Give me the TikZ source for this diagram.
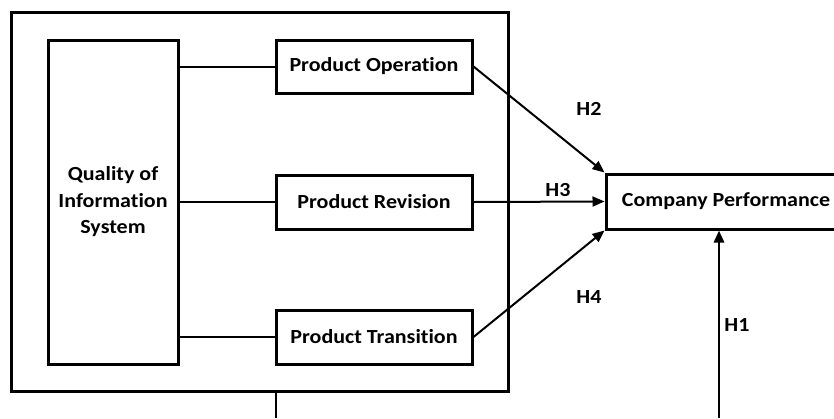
\documentclass[tikz,border=0pt]{standalone}
\usepackage{fontspec}
\setmainfont[Ligatures=NoCommon, FakeStretch=1.1]{Carlito}
\usetikzlibrary{arrows.meta}
\begin{document}
\begin{tikzpicture}[x=1pt,y=-1pt,
  box/.style={draw, line width=3pt, rectangle, inner sep=0pt},
  lbl/.style={font=\fontsize{20}{24}\selectfont\bfseries},
  conn/.style={line width=2pt},
  arr/.style={line width=2pt, -{Triangle[length=12pt,width=10pt]}},
  tall/.style={line width=2.8pt}]
\useasboundingbox (0,0) rectangle (834,418);
\clip (0,0) rectangle (834,418);
\node[box, minimum width=497pt, minimum height=379pt] (outer) at (259.5,201.5) {};
\node[box, minimum width=130pt, minimum height=324pt, align=center,
  font=\fontsize{20}{26.5}\selectfont\bfseries] (qis) at (113,202) {Quality of\\Information\\System};
\node[box, lbl, minimum width=196pt, minimum height=53pt] (po) at (374,66.5) {Product Operation};
\node[box, lbl, minimum width=196pt, minimum height=54pt] (pr) at (374,202) {Product Revision};
\node[box, lbl, minimum width=196pt, minimum height=54pt] (pt) at (374,337) {Product Transition};
\node[box, lbl, minimum width=240pt, minimum height=55pt] (cp) at (726,201.5) {Company Performance};
\draw[conn] (qis.east |- po.west) -- (po.west);
\draw[conn] (qis.east |- pr.west) -- (pr.west);
\draw[conn] (qis.east |- pt.west) -- (pt.west);
\draw[arr] (po.east) -- (cp.north west);
\draw[arr] (pr.east) -- (cp.west);
\draw[arr] (pt.east) -- (cp.south west);
\coordinate (b1) at (276,418);
\coordinate (b2) at (719,418);
\draw[tall] (b1 |- outer.south) -- (b1);
\draw[tall, -{Triangle[length=12pt,width=10pt]}] (b2) -- (b2 |- cp.south);
\node[lbl] (h2) at (589,109) {H2};
\node[lbl] (h3) at (558,190) {H3};
\node[lbl] (h4) at (589,297) {H4};
\node[lbl] (h1) at (737,325) {H1};
\end{tikzpicture}
\end{document}
